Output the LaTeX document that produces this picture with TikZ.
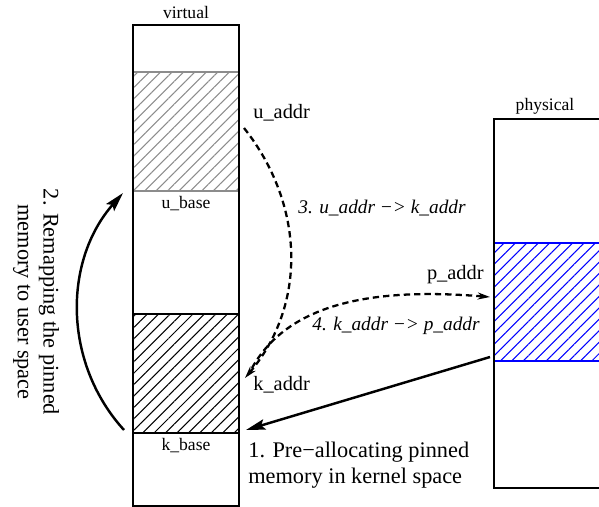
\documentclass[tikz,border=0pt]{standalone}
\usepackage{fontspec}
\setmainfont{Liberation Serif}
\usetikzlibrary{arrows.meta,patterns.meta}

\begin{document}
\begin{tikzpicture}[x=0.02cm,y=-0.02cm,line join=miter,
  boxline/.style={line width=0.6pt},
  hatch/.style={pattern={Lines[angle=45,distance=4.6pt,line width=0.6pt]}},
  tag/.style={font=\fontsize{10}{12}\selectfont,inner sep=0pt},
  addr/.style={font=\fontsize{11.6}{14}\selectfont,inner sep=0pt},
  steplabel/.style={font=\fontsize{11}{13}\selectfont\itshape,inner sep=0pt},
  note/.style={font=\fontsize{12.7}{14.7}\selectfont,inner sep=0pt},
  dasharrow/.style={line width=1.3pt,dash pattern=on 3.6pt off 2.3pt,
    -{Stealth[length=7pt,width=4pt]}},
  thickarrow/.style={line width=1.4pt,-{Stealth[length=11pt,width=6pt,inset=2pt]}}]
  \useasboundingbox (0,0) rectangle (599,507);
  % end points of the arrows
  \coordinate (uaddr) at (244,128);
  \coordinate (kaddr) at (245,378);
  \coordinate (kstart) at (252,368);
  \coordinate (paddr) at (490,297);
  \coordinate (pfrom) at (490,357);
  \coordinate (kbase) at (246,430);
  \coordinate (kleft) at (124,430);
  \coordinate (uleft) at (123,193);
  % virtual memory
  \fill[hatch,pattern color=black!45] (133,72) rectangle (239,191);
  \draw[boxline,black!45] (133,72) -- (239,72) (133,191) -- (239,191);
  \fill[hatch,pattern color=black] (133,314) rectangle (239,433);
  \draw[boxline] (133,314) -- (239,314) (133,433) -- (239,433);
  \draw[boxline] (133,25) rectangle (239,506);
  % physical memory
  \fill[hatch,pattern color=blue] (494,243) rectangle (620,361);
  \draw[boxline,blue] (494,243) -- (620,243) (494,361) -- (620,361);
  \draw[boxline] (620,119) -- (494,119) -- (494,488) -- (620,488);
  \node[tag] (lblvirtual) at (186,12) {virtual};
  \node[tag] (lblubase) at (186,204) {u\_base};
  \node[tag] (lblkbase) at (186,446) {k\_base};
  \node[tag] (lblphysical) at (545,106) {physical};
  \node[addr,anchor=west] (lbluaddr) at (253,113) {u\_addr};
  \node[addr,anchor=west] (lblkaddr) at (253,385) {k\_addr};
  \node[addr,anchor=east] (lblpaddr) at (484,275) {p\_addr};
  % the four steps
  \draw[dasharrow] (uaddr) .. controls (305,205) and (307,305) .. (kaddr);
  \draw[dasharrow] (kstart) .. controls (290,300) and (380,288) .. (paddr);
  \draw[thickarrow] (pfrom) -- (kbase);
  \draw[thickarrow] (kleft) .. controls (63,363) and (63,261) .. (uleft);
  \node[steplabel,anchor=west] (lblstep3) at (298,208) {3. u\_addr −> k\_addr};
  \node[steplabel,anchor=west] (lblstep4) at (312,326) {4. k\_addr −> p\_addr};
  \node[note,align=left,anchor=west] (lblstep1) at (248,465)
    {1. Pre−allocating pinned\\memory in kernel space};
  \node[note,align=center,rotate=-90] (lblstep2) at (36,302)
    {2. Remapping the pinned\\memory to user space};
\end{tikzpicture}
\end{document}
